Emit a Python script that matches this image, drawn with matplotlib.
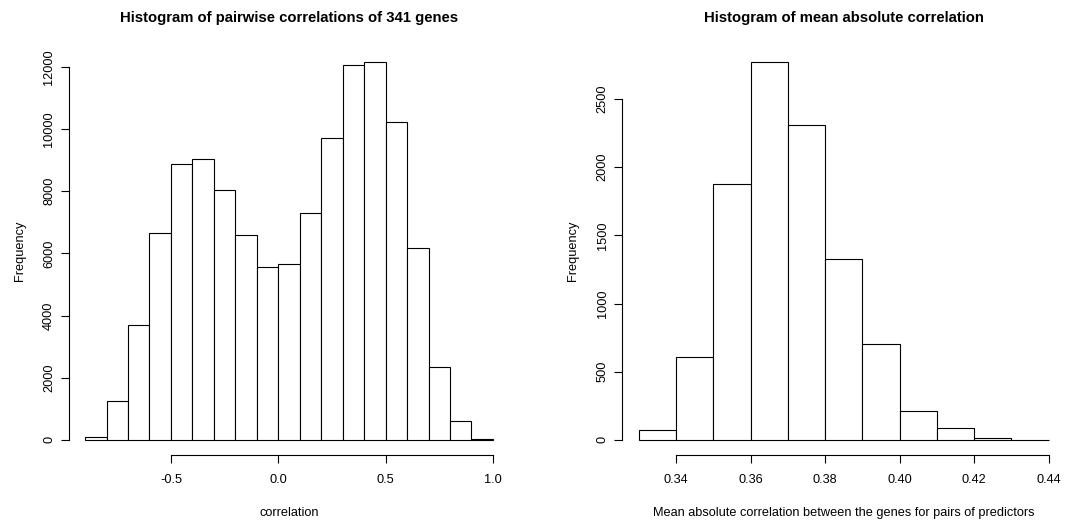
import numpy as np
import matplotlib
matplotlib.use("Agg")
import matplotlib.pyplot as plt

plt.rcParams['font.family'] = ['Liberation Sans', 'DejaVu Sans']

# left histogram: pairwise correlations, bins of width 0.1
corr_edges = [-0.9, -0.8, -0.7, -0.6, -0.5, -0.4, -0.3, -0.2, -0.1, 0.0,
              0.1, 0.2, 0.3, 0.4, 0.5, 0.6, 0.7, 0.8, 0.9, 1.0]
corr_counts = [80, 1250, 3700, 6650, 8870, 9050, 8050, 6580, 5560, 5650,
               7300, 9700, 12050, 12150, 10230, 6180, 2350, 600, 30]
corr_xticks = [-0.5, 0.0, 0.5, 1.0]
corr_yticks = [0, 2000, 4000, 6000, 8000, 10000, 12000]

# right histogram: mean absolute correlation, bins of width 0.01
mac_edges = [0.33, 0.34, 0.35, 0.36, 0.37, 0.38, 0.39, 0.40, 0.41, 0.42, 0.43, 0.44]
mac_counts = [75, 610, 1880, 2770, 2310, 1330, 700, 210, 85, 15, 1]
mac_xticks = [0.34, 0.36, 0.38, 0.40, 0.42, 0.44]
mac_yticks = [0, 500, 1000, 1500, 2000, 2500]


def r_hist(ax, edges, counts, xticks, yticks, xfmt, title, xlabel):
    edges = np.array(edges)
    counts = np.array(counts)
    ax.bar(edges[:-1], counts, width=np.diff(edges), align='edge',
           facecolor='white', edgecolor='black', linewidth=0.8)
    # R style 4% axis extension
    xr = edges[-1] - edges[0]
    ax.set_xlim(edges[0] - 0.04 * xr, edges[-1] + 0.04 * xr)
    ymax = counts.max()
    ax.set_ylim(-0.04 * ymax, 1.04 * ymax)
    for s in ['top', 'right']:
        ax.spines[s].set_visible(False)
    ax.spines['left'].set_bounds(yticks[0], yticks[-1])
    ax.spines['bottom'].set_bounds(xticks[0], xticks[-1])
    for s in ['left', 'bottom']:
        ax.spines[s].set_linewidth(0.8)
    ax.set_xticks(xticks)
    ax.set_xticklabels([xfmt % t for t in xticks])
    ax.set_yticks(yticks)
    ax.set_yticklabels([str(t) for t in yticks], rotation=90, va='center')
    ax.tick_params(length=5.8, width=0.8, labelsize=9.2)
    ax.tick_params(axis='x', pad=8)
    ax.tick_params(axis='y', pad=4)
    ax.set_title(title, fontsize=10.7, fontweight='bold', pad=18)
    ax.set_xlabel(xlabel, fontsize=9.2, labelpad=15)
    ax.set_ylabel('Frequency', fontsize=9.2, labelpad=12.5)


fig = plt.figure(figsize=(10.78, 5.21), dpi=100)
ax1 = fig.add_axes([0.0638, 0.1267, 0.4086, 0.783])
ax2 = fig.add_axes([0.5773, 0.1267, 0.4107, 0.783])

r_hist(ax1, corr_edges, corr_counts, corr_xticks, corr_yticks, '%.1f',
       'Histogram of pairwise correlations of 341 genes', 'correlation')
r_hist(ax2, mac_edges, mac_counts, mac_xticks, mac_yticks, '%.2f',
       'Histogram of mean absolute correlation',
       'Mean absolute correlation between the genes for pairs of predictors')

fig.savefig('out.png', dpi=100)
